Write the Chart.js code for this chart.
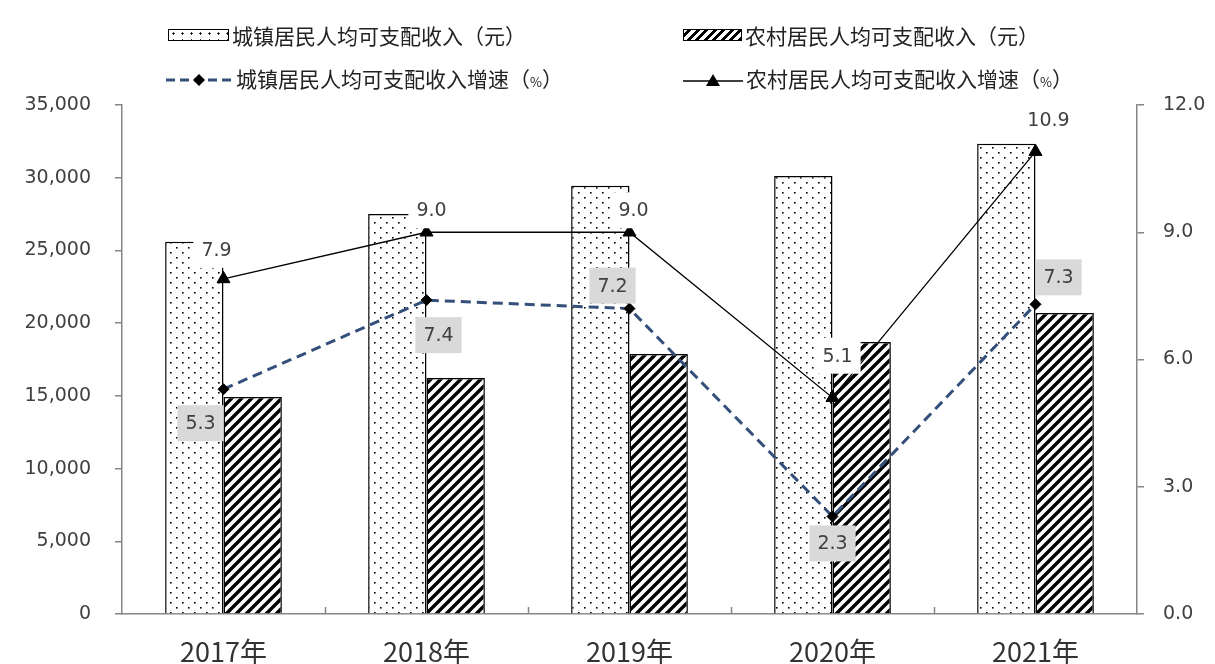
<!DOCTYPE html>
<html><head><meta charset="utf-8">
<script src="https://cdn.jsdelivr.net/npm/chart.js@4"></script>
<style>
html,body{margin:0;padding:0;background:#fff;}
#wrap{position:relative;width:1215px;height:664px;overflow:hidden;}
#c{position:absolute;left:0;top:0;}
.lg{position:absolute;height:28px;font-family:"Noto Sans CJK SC","Noto Sans",sans-serif;font-size:21px;color:#222;line-height:28px;white-space:nowrap;display:flex;align-items:center;}
.lg .pc{font-size:13px;}
.sw-dot{display:inline-block;width:59px;height:10px;border:1.5px solid #000;margin-right:3px;
 background: radial-gradient(circle, #000 0 0.9px, transparent 1.3px) 0 0/9px 7px, #fff;}
.sw-hatch{display:inline-block;width:57px;height:10px;border:1.5px solid #000;margin-right:3px;
 background: repeating-linear-gradient(-45deg, #000 0 2.6px, #fff 2.6px 6px);}
.lg svg{margin-right:3px;}
</style></head>
<body>
<div id="wrap">
<canvas id="c" width="1215" height="664"></canvas>
<div class="lg" style="left:168px;top:21px;"><span class="sw-dot"></span><span>城镇居民人均可支配收入（元）</span></div>
<div class="lg" style="left:683px;top:21px;"><span class="sw-hatch"></span><span>农村居民人均可支配收入（元）</span></div>
<div class="lg" style="left:165px;top:66px;"><svg width="68" height="14"><line x1="1" y1="7" x2="67" y2="7" stroke="#34507a" stroke-width="3" stroke-dasharray="9,5"/><polygon points="34,1 40,7 34,13 28,7" fill="#000"/></svg><span>城镇居民人均可支配收入增速（<span class="pc">%</span>）</span></div>
<div class="lg" style="left:683px;top:66px;"><svg width="60" height="16"><line x1="0" y1="9" x2="60" y2="9" stroke="#000" stroke-width="1.5"/><polygon points="30,2 37,14 23,14" fill="#000"/></svg><span>农村居民人均可支配收入增速（<span class="pc">%</span>）</span></div>
</div>
<script>
const years = ['2017年','2018年','2019年','2020年','2021年'];
const urbanIncome = [25600, 27500, 29450, 30120, 32330];
const ruralIncome = [14920, 16230, 17880, 18700, 20700];
const urbanGrowth = [5.3, 7.4, 7.2, 2.3, 7.3];
const ruralGrowth = [7.9, 9.0, 9.0, 5.1, 10.9];
const leftAxisMax = 35000, leftAxisStep = 5000;
const rightAxisMax = 12, rightAxisStep = 3;

function dotPattern(){
  const c=document.createElement('canvas');c.width=12;c.height=10;
  const x=c.getContext('2d');x.fillStyle='#fff';x.fillRect(0,0,12,10);
  x.fillStyle='#000';x.fillRect(2,2,1.6,1.6);x.fillRect(8,7,1.6,1.6);
  return x.createPattern(c,'repeat');
}
function hatchPattern(){
  const s=10;const c=document.createElement('canvas');c.width=s;c.height=s;
  const x=c.getContext('2d');x.fillStyle='#fff';x.fillRect(0,0,s,s);
  x.strokeStyle='#000';x.lineWidth=3.4;
  x.beginPath();x.moveTo(0,s);x.lineTo(s,0);x.moveTo(-s/2,s/2);x.lineTo(s/2,-s/2);x.moveTo(s/2,s*1.5);x.lineTo(s*1.5,s/2);x.stroke();
  return x.createPattern(c,'repeat');
}

const labelPlugin = {
  id:'pointLabels',
  afterDatasetsDraw(chart, args, opts){
    const ctx=chart.ctx;
    opts.sets.forEach(set=>{
      const meta=chart.getDatasetMeta(set.index);
      const data=chart.data.datasets[set.index].data;
      meta.data.forEach((pt,i)=>{
        const [dx,dy]=set.offsets[i];
        const tx=pt.x+dx, ty=pt.y+dy;
        const txt=data[i].toFixed(1);
        ctx.save();
        ctx.font='19px "DejaVu Sans"';
        const w=ctx.measureText(txt).width;
        ctx.fillStyle=set.bg;
        ctx.fillRect(tx-w/2-8, ty-18, w+16, 36);
        ctx.fillStyle='#404040';
        ctx.textAlign='center';ctx.textBaseline='middle';
        ctx.fillText(txt,tx,ty+1);
        ctx.restore();
      });
    });
  }
};
const innerTicks = {
  id:'innerTicks',
  afterDraw(chart){
    const xs=chart.scales.x, ctx=chart.ctx;
    const n=years.length, step=(xs.right-xs.left)/n;
    ctx.save();ctx.strokeStyle='#868686';ctx.lineWidth=1.5;
    for(let i=1;i<n;i++){
      const px=Math.round(xs.getPixelForValue(i)-step/2)+0.5;
      ctx.beginPath();ctx.moveTo(px,xs.top);ctx.lineTo(px,xs.top-7);ctx.stroke();
    }
    ctx.restore();
  }
};

new Chart(document.getElementById('c'),{
  data:{
    labels:years,
    datasets:[
      {type:'bar',label:'城镇居民人均可支配收入（元）',data:urbanIncome,yAxisID:'y',order:2,
       backgroundColor:dotPattern(),borderColor:'#000',borderWidth:1.5,borderSkipped:'bottom',
       categoryPercentage:0.575,barPercentage:1},
      {type:'bar',label:'农村居民人均可支配收入（元）',data:ruralIncome,yAxisID:'y',order:3,
       backgroundColor:hatchPattern(),borderColor:'#000',borderWidth:1.5,borderSkipped:'bottom',
       categoryPercentage:0.575,barPercentage:1},
      {type:'line',label:'城镇居民人均可支配收入增速（%）',data:urbanGrowth,yAxisID:'y2',order:1,
       borderColor:'#34507a',borderWidth:3,borderDash:[10,6],pointStyle:'rectRot',pointRadius:5.5,
       pointBackgroundColor:'#000',pointBorderColor:'#000',pointBorderWidth:1,tension:0},
      {type:'line',label:'农村居民人均可支配收入增速（%）',data:ruralGrowth,yAxisID:'y2',order:0,
       borderColor:'#000',borderWidth:1.3,pointStyle:'triangle',pointRadius:7.5,
       pointBackgroundColor:'#000',pointBorderColor:'#000',pointBorderWidth:1,tension:0}
    ]
  },
  options:{
    responsive:false,animation:false,
    layout:{padding:{top:105,left:0,right:0,bottom:0}},
    plugins:{legend:{display:false},tooltip:{enabled:false},
      pointLabels:{sets:[
        {index:2,bg:'#d9d9d9',offsets:[[-23,34],[12,35],[-17,-23],[0,27],[23,-27]]},
        {index:3,bg:'#ffffff',offsets:[[-7,-29],[5,-22],[4,-22],[5,-42],[13,-32]]}
      ]}
    },
    scales:{
      x:{offset:true,grid:{display:false},border:{color:'#868686',width:1.5},
         ticks:{padding:14,color:'#333',font:{family:'"Liberation Sans Narrow","Noto Sans CJK SC"',size:27}},
         afterFit(s){s.height=50;}},
      y:{position:'left',min:0,max:leftAxisMax,
         grid:{drawOnChartArea:false,drawTicks:true,tickLength:7,color:'#868686',lineWidth:1.5},
         border:{color:'#868686',width:1.5},
         ticks:{stepSize:leftAxisStep,padding:24,color:'#404040',font:{family:'"DejaVu Sans"',size:19},
           callback:v=>v.toLocaleString('en-US')},
         afterFit(s){s.width=122;}},
      y2:{position:'right',min:0,max:rightAxisMax,
         grid:{drawOnChartArea:false,drawTicks:true,tickLength:7,color:'#868686',lineWidth:1.5},
         border:{color:'#868686',width:1.5},
         ticks:{stepSize:rightAxisStep,padding:19,color:'#404040',font:{family:'"DejaVu Sans"',size:19},
           callback:v=>v.toFixed(1)},
         afterFit(s){s.width=78;}}
    }
  },
  plugins:[labelPlugin,innerTicks]
});
</script>
</body></html>
